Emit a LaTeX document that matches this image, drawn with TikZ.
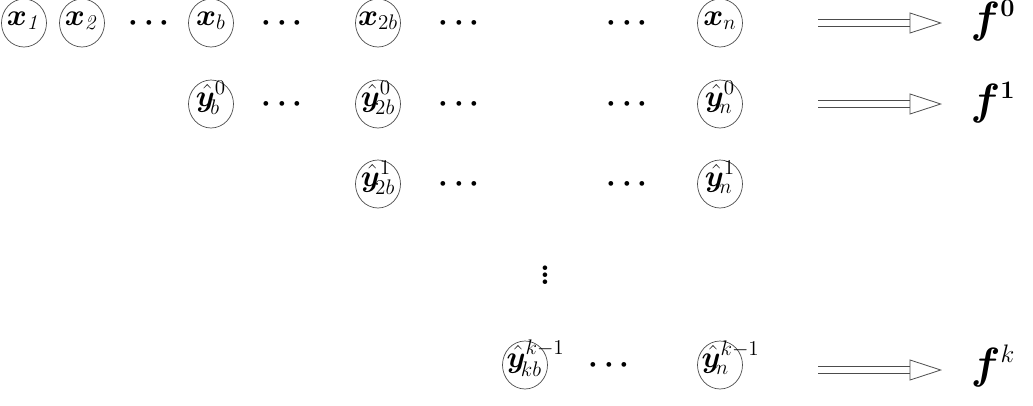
\documentclass[tikz,border=0pt]{standalone}
\usepackage{amsmath,amssymb,bm}
\usepackage{tikz}
\usetikzlibrary{positioning,arrows.meta,calc,shapes.geometric}

% label kept from widening its ellipse
\newcommand{\inell}[1]{\makebox[0pt][c]{#1}}
\newcommand{\inelleft}[1]{\makebox[0pt][l]{\hspace{-3.7mm}#1}}

\begin{document}
\begin{tikzpicture}[
  font=\fontsize{18}{22}\selectfont,
  var/.style={draw=black!70, ellipse, inner sep=0pt, minimum width=9.0mm, minimum height=9.6mm,
              text height=2.6mm, text depth=1.8mm},
  dotsnode/.style={inner sep=0pt},
  outp/.style={font=\fontsize{27}{30}\selectfont, inner sep=0pt},
  bigarr/.style={draw=black!70, double=white, double distance=1.3mm, line width=0.45pt,
                 -{Triangle[open, length=6.5mm, width=4.2mm]}, shorten <=1.96cm, shorten >=1.02cm}
]
\useasboundingbox (0,0) rectangle (20.66,-8.1);
% ----- row 0: inputs -----
\node[var] (x1)  at (0.48,-0.46)  {\inell{$\bm{x}_{\mathit{1}}$}};
\node[var] (x2)  at (1.64,-0.46)  {\inell{$\bm{x}_{\mathit{2}}$}};
\node[var] (xb)  at (4.22,-0.46)  {\inell{$\bm{x}_{b}$}};
\node[var] (x2b) at (7.56,-0.46)  {\inell{$\bm{x}_{2b}$}};
\node[var] (xn)  at (14.40,-0.46) {\inell{$\bm{x}_{n}$}};
% ----- row 1: first level predictions -----
\node[var] (yb0)  at (4.22,-2.08)  {\inell{$\hat{\bm{y}}^{0}_{\!b}$}};
\node[var] (y2b0) at (7.56,-2.08)  {\inell{$\hat{\bm{y}}^{0}_{\!2b}$}};
\node[var] (yn0)  at (14.40,-2.08) {\inell{$\hat{\bm{y}}^{0}_{\!n}$}};
% ----- row 2 -----
\node[var] (y2b1) at (7.56,-3.68)  {\inell{$\hat{\bm{y}}^{1}_{\!2b}$}};
\node[var] (yn1)  at (14.40,-3.68) {\inell{$\hat{\bm{y}}^{1}_{\!n}$}};
% ----- last row -----
\node[var] (ykb) at (10.50,-7.30) {\inelleft{$\hat{\bm{y}}^{k-1}_{\!kb}$}};
\node[var] (ynk) at (14.40,-7.30) {\inelleft{$\hat{\bm{y}}^{k-1}_{\!n}$}};
% ----- dots -----
\foreach \px/\py in {3.04/-0.46, 5.70/-0.46, 9.24/-0.46, 12.60/-0.46,
                     5.70/-2.08, 9.24/-2.08, 12.60/-2.08,
                     9.24/-3.68, 12.60/-3.68, 12.24/-7.30}
  \node[dotsnode] at (\px,\py) {$\bm{\cdots}$};
\node[dotsnode] (vd) at (10.90,-5.40) {$\bm{\vdots}$};
% ----- outputs -----
\node[outp] (f0) at (19.86,-0.42) {$\bm{f}^{\scriptscriptstyle\mathbf{0}}$};
\node[outp] (f1) at (19.86,-2.06) {$\bm{f}^{\scriptscriptstyle\mathbf{1}}$};
\node[outp] (fk) at (19.86,-7.32) {$\bm{f}^{\scriptscriptstyle k}$};
\draw[bigarr] (xn.center)  -- (xn.center -| f0.center);
\draw[bigarr] (yn0.center) -- (yn0.center -| f1.center);
\draw[bigarr] ([yshift=-1mm]ynk.center) -- ([yshift=-1mm]ynk.center -| fk.center);
\end{tikzpicture}
\end{document}
